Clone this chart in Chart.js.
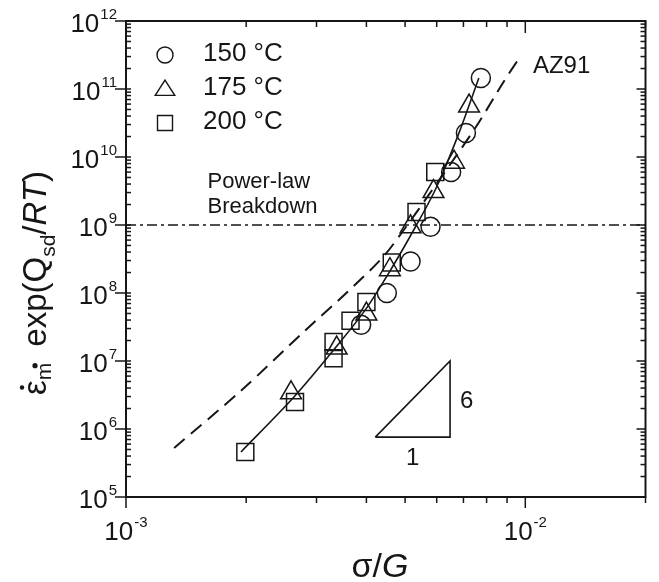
<!DOCTYPE html>
<html>
<head>
<meta charset="utf-8">
<title>creep AZ91</title>
<script src="https://cdn.jsdelivr.net/npm/chart.js@4.4.1/dist/chart.umd.min.js"></script>
<style>
  html, body { margin: 0; padding: 0; background: #fff; }
  canvas { display: block; }
</style>
</head>
<body>
<canvas id="grafico" width="659" height="582"></canvas>
<script>
// 150 °C (circulos)
const x150 = [3.88e-3, 4.50e-3, 5.16e-3, 5.79e-3, 6.52e-3, 7.10e-3, 7.74e-3];
const y150 = [3.4e7, 1.0e8, 2.9e8, 9.4e8, 6.0e9, 2.25e10, 1.45e11];
// 175 °C (triangulos)
const x175 = [2.59e-3, 3.37e-3, 4.00e-3, 4.58e-3, 5.16e-3, 5.89e-3, 6.63e-3, 7.23e-3];
const y175 = [3.4e6, 1.55e7, 4.9e7, 2.2e8, 9.4e8, 3.1e9, 8.4e9, 5.6e10];
// 200 °C (cuadrados)
const x200 = [1.99e-3, 2.65e-3, 3.31e-3, 3.31e-3, 3.65e-3, 4.00e-3, 4.63e-3, 5.34e-3, 5.95e-3];
const y200 = [4.6e5, 2.5e6, 1.1e7, 1.9e7, 3.9e7, 7.4e7, 2.8e8, 1.55e9, 6.0e9];
// curva de ajuste (linea solida)
const ajusteX = [1.94e-3, 2.62e-3, 3.31e-3, 3.97e-3, 4.63e-3, 5.34e-3, 5.98e-3, 6.79e-3, 7.65e-3];
const ajusteY = [4.6e5, 2.86e6, 1.45e7, 5.6e7, 2.33e8, 1.0e9, 3.5e9, 2.1e10, 1.45e11];
// AZ91 (linea a trazos)
const az91X = [1.32e-3, 1.95e-3, 2.82e-3, 3.585e-3, 4.38e-3, 4.90e-3, 5.99e-3, 7.52e-3, 8.82e-3, 9.66e-3];
const az91Y = [5.26e5, 3.75e6, 2.86e7, 1.035e8, 3.27e8, 7.62e8, 4.01e9, 2.76e10, 1.27e11, 2.86e11];
// limite power-law breakdown
const breakdownY = 1e9;
// triangulo de pendiente 6:1
const pendienteX = [4.21e-3, 6.48e-3, 6.48e-3, 4.21e-3];
const pendienteY = [7.6e5, 7.6e5, 1.0e7, 7.6e5];

const nombres = ['150 °C', '175 °C', '200 °C'];
const xPotencias = [-3, -2];
const yPotencias = [5, 6, 7, 8, 9, 10, 11, 12];
const xMin = 1e-3, xMax = 2e-2, yMin = 1e5, yMax = 1e12;

const INK = '#161616';
const FONT = '"Liberation Sans", Arial, sans-serif';

function pares(xs, ys) { return xs.map((x, i) => ({ x, y: ys[i] })); }

function linea(ctx, x1, y1, x2, y2) {
  ctx.beginPath(); ctx.moveTo(x1, y1); ctx.lineTo(x2, y2); ctx.stroke();
}

function marcador(ctx, estilo, x, y, r) {
  ctx.beginPath();
  if (estilo === 'circle') {
    ctx.arc(x, y, r, 0, Math.PI * 2);
  } else if (estilo === 'rect') {
    ctx.rect(x - r, y - r, 2 * r, 2 * r);
  } else {
    ctx.moveTo(x, y - r * 1.05);
    ctx.lineTo(x + r * 1.15, y + r * 0.75);
    ctx.lineTo(x - r * 1.15, y + r * 0.75);
    ctx.closePath();
  }
  ctx.stroke();
}

// "10" con exponente
function potencia(ctx, exp, x, base, modo) {
  ctx.font = '26px ' + FONT;
  const w10 = ctx.measureText('10').width;
  ctx.font = '15px ' + FONT;
  const wExp = ctx.measureText(exp).width;
  const total = w10 + 1 + wExp;
  const x0 = modo === 'centro' ? x - total / 2 : x - total;
  ctx.textAlign = 'left';
  ctx.font = '26px ' + FONT;
  ctx.fillText('10', x0, base);
  ctx.font = '15px ' + FONT;
  ctx.fillText(exp, x0 + w10 + 1, base - 13);
}

function tituloY(ctx, cx, cy) {
  const piezas = [
    { t: 'ε', f: '33px ', dy: 0, punto: true },
    { t: 'm', f: '21px ', dy: 5 },
    { sep: 16 },
    { t: 'exp(', f: '33px ', dy: 0 },
    { t: 'Q', f: '33px ', dy: 0 },
    { t: 'sd', f: '21px ', dy: 9 },
    { t: '/', f: '33px ', dy: 0 },
    { t: 'RT', f: 'italic 33px ', dy: 0 },
    { t: ')', f: '33px ', dy: 0 }
  ];
  let total = 0;
  piezas.forEach(p => {
    if (p.sep) { p.w = p.sep; }
    else { ctx.font = p.f + FONT; p.w = ctx.measureText(p.t).width; }
    total += p.w;
  });
  ctx.save();
  ctx.translate(cx, cy);
  ctx.rotate(-Math.PI / 2);
  ctx.textAlign = 'left';
  ctx.textBaseline = 'alphabetic';
  let x = -total / 2;
  piezas.forEach(p => {
    if (p.sep) {
      ctx.beginPath(); ctx.arc(x - 3, -11, 2.6, 0, Math.PI * 2); ctx.fill();
    } else {
      ctx.font = p.f + FONT;
      ctx.fillText(p.t, x, p.dy);
      if (p.punto) { ctx.beginPath(); ctx.arc(x + p.w / 2, -24, 2.2, 0, Math.PI * 2); ctx.fill(); }
    }
    x += p.w;
  });
  ctx.restore();
}

const ejes = {
  id: 'ejes',
  afterDraw(chart) {
    const { ctx, chartArea: a } = chart;
    const sx = chart.scales.x, sy = chart.scales.y;
    ctx.save();
    ctx.strokeStyle = INK; ctx.fillStyle = INK;
    ctx.lineWidth = 2;
    ctx.strokeRect(a.left, a.top, a.right - a.left, a.bottom - a.top);

    // marcas eje x (abajo hacia afuera, arriba hacia adentro)
    ctx.lineWidth = 1.5;
    for (let p = xPotencias[0]; p <= xPotencias[xPotencias.length - 1]; p++) {
      for (let m = 1; m <= 9; m++) {
        const v = m * Math.pow(10, p);
        if (v > xMax * 1.0001) break;
        const px = sx.getPixelForValue(v);
        const mayor = m === 1;
        linea(ctx, px, a.bottom, px, a.bottom + (mayor ? 11 : 6));
        linea(ctx, px, a.top, px, a.top + (mayor ? 12 : 6));
      }
    }
    // marcas eje y
    for (let p = yPotencias[0]; p <= yPotencias[yPotencias.length - 1]; p++) {
      for (let m = 1; m <= 9; m++) {
        const v = m * Math.pow(10, p);
        if (v > yMax * 1.0001) break;
        const py = sy.getPixelForValue(v);
        const mayor = m === 1;
        if (mayor) {
          linea(ctx, a.left - 11, py, a.left + 5, py);
          linea(ctx, a.right - 9, py, a.right, py);
        } else {
          linea(ctx, a.left, py, a.left + 5, py);
          linea(ctx, a.right - 5, py, a.right, py);
        }
      }
    }

    // etiquetas
    xPotencias.forEach(p => {
      potencia(ctx, '-' + Math.abs(p), sx.getPixelForValue(Math.pow(10, p)), a.bottom + 43, 'centro');
    });
    yPotencias.forEach(p => {
      potencia(ctx, String(p), a.left - 9, sy.getPixelForValue(Math.pow(10, p)) + 11, 'derecha');
    });

    // titulos
    ctx.textAlign = 'left';
    ctx.font = '34px ' + FONT;
    const wS = ctx.measureText('σ/').width;
    ctx.font = 'italic 34px ' + FONT;
    const wG = ctx.measureText('G').width;
    const x0 = 380 - (wS + wG) / 2;
    ctx.font = '34px ' + FONT;
    ctx.fillText('σ/', x0, 577);
    ctx.font = 'italic 34px ' + FONT;
    ctx.fillText('G', x0 + wS, 577);
    tituloY(ctx, 46, 283);

    // leyenda
    const estilos = ['circle', 'triangle', 'rect'];
    const radios = [8, 8.5, 7.5];
    const filas = [55, 89, 123];
    ctx.lineWidth = 1.4;
    ctx.font = '26px ' + FONT;
    nombres.forEach((n, i) => {
      marcador(ctx, estilos[i], 165, filas[i], radios[i]);
      ctx.fillText(n, 203, filas[i] + 6);
    });

    // anotaciones
    ctx.font = '22px ' + FONT;
    const xt = sx.getPixelForValue(1.6e-3);
    ctx.fillText('Power-law', xt, sy.getPixelForValue(breakdownY) - 37);
    ctx.fillText('Breakdown', xt, sy.getPixelForValue(breakdownY) - 12);
    ctx.font = '24px ' + FONT;
    ctx.fillText('AZ91', sx.getPixelForValue(1.045e-2), sy.getPixelForValue(az91Y[az91Y.length - 1]) + 15);
    ctx.fillText('6', sx.getPixelForValue(pendienteX[1]) + 10, sy.getPixelForValue(Math.sqrt(pendienteY[0] * pendienteY[2])) + 9);
    ctx.textAlign = 'center';
    ctx.fillText('1', sx.getPixelForValue(Math.sqrt(pendienteX[0] * pendienteX[1])), sy.getPixelForValue(pendienteY[0]) + 28);
    ctx.restore();
  }
};

function serieLinea(datos, ancho, trazo, tension) {
  return {
    data: datos, showLine: true, borderColor: INK, borderWidth: ancho,
    borderDash: trazo, pointRadius: 0, tension: tension, fill: false
  };
}
function serieMarcas(datos, estilo, radio) {
  return {
    data: datos, showLine: false, pointStyle: estilo, pointRadius: radio,
    borderColor: INK, backgroundColor: 'rgba(0,0,0,0)', pointBorderWidth: 1.5
  };
}

new Chart(document.getElementById('grafico'), {
  type: 'scatter',
  data: {
    datasets: [
      serieLinea(pares(ajusteX, ajusteY), 1.6, [], 0.3),
      serieLinea(pares(az91X, az91Y), 2, [14, 8], 0.3),
      serieLinea([{ x: xMin, y: breakdownY }, { x: xMax, y: breakdownY }], 1.6, [10, 4, 3, 4], 0),
      serieLinea(pares(pendienteX, pendienteY), 1.6, [], 0),
      serieMarcas(pares(x150, y150), 'circle', 9.5),
      serieMarcas(pares(x175, y175), 'triangle', 12),
      serieMarcas(pares(x200, y200), 'rect', 12)
    ]
  },
  options: {
    responsive: false,
    animation: false,
    layout: { padding: { left: 126, top: 21, right: 7, bottom: 85 } },
    plugins: { legend: { display: false }, tooltip: { enabled: false } },
    scales: {
      x: { type: 'logarithmic', min: xMin, max: xMax, display: false },
      y: { type: 'logarithmic', min: yMin, max: yMax, display: false }
    }
  },
  plugins: [ejes]
});
</script>
</body>
</html>
